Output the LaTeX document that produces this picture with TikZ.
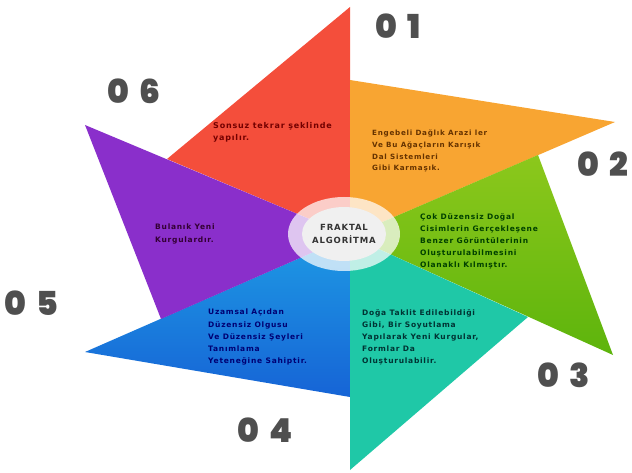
\documentclass[tikz,border=0pt]{standalone}
\usepackage{fontspec}
\setmainfont{DejaVu Sans}
\newfontfamily\bladefont{DejaVu Sans}[LetterSpace=10]
\newfontfamily\numfont{Poppins Black}
\usetikzlibrary{positioning}
\usepackage{xcolor}

\definecolor{redblade}{HTML}{F44E3B}
\definecolor{orangeblade}{HTML}{F8A532}
\definecolor{greenA}{HTML}{8CC81C}
\definecolor{greenB}{HTML}{5DB40C}
\definecolor{tealblade}{HTML}{1FC8A7}
\definecolor{blueA}{HTML}{1E9AE4}
\definecolor{blueB}{HTML}{1664D6}
\definecolor{purpleblade}{HTML}{8A2FCB}
\definecolor{numgray}{HTML}{4F4F4F}

\begin{document}
\begin{tikzpicture}[x=1pt, y=-1pt,
    blade/.style={draw=none},
    txt/.style={anchor=north west, align=left, inner sep=0pt, font=\bladefont\bfseries\fontsize{7.5}{12.2}\selectfont},
    num/.style={font=\numfont\fontsize{33}{33}\selectfont, text=numgray}
]
\useasboundingbox (0,0) rectangle (632,473);

% Corners of the blades
\coordinate (C)  at (350,236);
\coordinate (Tr) at (350,7);   \coordinate (Ar) at (167,159);
\coordinate (To) at (615,122); \coordinate (Ao) at (350,80);
\coordinate (Tg) at (613,355); \coordinate (Ag) at (538,155);
\coordinate (Tt) at (350,470); \coordinate (At) at (528,317);
\coordinate (Tb) at (85,352);  \coordinate (Ab) at (350,397);
\coordinate (Tp) at (85,125);  \coordinate (Ap) at (161,319);

% Blades
\fill[blade, redblade] (C) -- (Ar) -- (Tr) -- cycle;
\fill[blade, orangeblade] (C) -- (Ao) -- (To) -- cycle;
\path[blade, top color=greenA, bottom color=greenB] (C) -- (Ag) -- (Tg) -- cycle;
\fill[blade, tealblade] (C) -- (At) -- (Tt) -- cycle;
\path[blade, top color=blueA, bottom color=blueB] (C) -- (Ab) -- (Tb) -- cycle;
\fill[blade, purpleblade] (C) -- (Ap) -- (Tp) -- cycle;

% Centre
\fill[white, opacity=0.72] (344,234) ellipse [x radius=56, y radius=37];
\fill[gray!12] (344,234) ellipse [x radius=42, y radius=27];
\node[align=center, font=\bladefont\bfseries\fontsize{8.5}{13}\selectfont, text=black!80] (centre) at (344,234) {FRAKTAL\\ALGORİTMA};

% Texts
\node[txt, font=\bladefont\bfseries\fontsize{8}{12.5}\selectfont, text=red!45!black] (t1) at (213,122) {Sonsuz tekrar şeklinde\\yapılır.};
\node[txt, font=\bladefont\bfseries\fontsize{7.2}{11.7}\selectfont, text=orange!40!black] (t2) at (372,130) {Engebeli Dağlık Arazi ler\\Ve Bu Ağaçların Karışık\\Dal Sistemleri\\Gibi Karmaşık.};
\node[txt, text=green!25!black] (t3) at (420,213) {Çok Düzensiz Doğal\\Cisimlerin Gerçekleşene\\Benzer Görüntülerinin\\Oluşturulabilmesini\\Olanaklı Kılmıştır.};
\node[txt, text=teal!40!black] (t4) at (362,309) {Doğa Taklit Edilebildiği\\Gibi, Bir Soyutlama\\Yapılarak Yeni Kurgular,\\Formlar Da\\Oluşturulabilir.};
\node[txt, text=blue!45!black] (t5) at (208,309) {Uzamsal Açıdan\\Düzensiz Olgusu\\Ve Düzensiz Şeyleri\\Tanımlama\\Yeteneğine Sahiptir.};
\node[txt, text=violet!40!black] (t6) at (155,224) {Bulanık Yeni\\Kurgulardır.};

% Numbers
\node[num] (n1) at (398,26) {0\hspace{10pt}1};
\node[num] (n2) at (603,164) {0\hspace{10pt}2};
\node[num] (n3) at (564,375) {0\hspace{10pt}3};
\node[num] (n4) at (265,430) {0\hspace{10pt}4};
\node[num] (n5) at (31,303) {0\hspace{10pt}5};
\node[num] (n6) at (134,91) {0\hspace{10pt}6};
\end{tikzpicture}
\end{document}
